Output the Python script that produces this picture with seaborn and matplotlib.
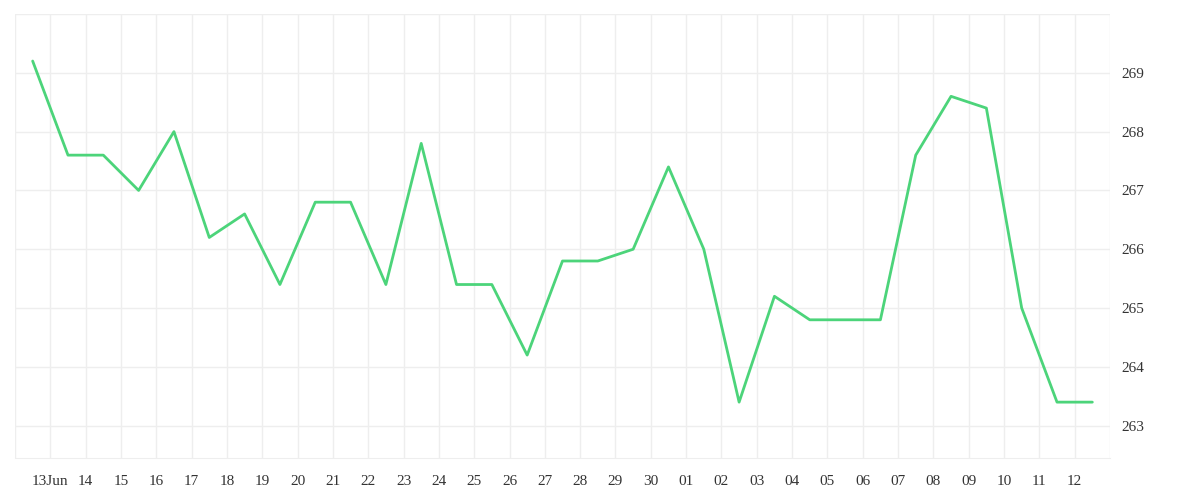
import pandas as pd
import seaborn as sns
import matplotlib.pyplot as plt
import matplotlib.dates as mdates

# data (daily, plotted at midday)
start = "2023-06-12 12:00"
values = [269.2, 267.6, 267.6, 267.0, 268.0, 266.2, 266.6, 265.4, 266.8, 266.8,
          265.4, 267.8, 265.4, 265.4, 264.2, 265.8, 265.8, 266.0, 267.4, 266.0,
          263.4, 265.2, 264.8, 264.8, 264.8, 267.6, 268.6, 268.4, 265.0, 263.4,
          263.4]
y_ticks = [263, 264, 265, 266, 267, 268, 269]

df = pd.DataFrame({"date": pd.date_range(start, periods=len(values), freq="D"),
                   "value": values})

sns.set_style("white")
plt.rcParams["font.family"] = ["Liberation Serif", "DejaVu Serif"]

fig, ax = plt.subplots(figsize=(12, 5), dpi=100)
fig.subplots_adjust(left=0.0125, right=0.925, top=0.972, bottom=0.084)

sns.lineplot(data=df, x="date", y="value", ax=ax, color="#4cd47a", linewidth=2)

ax.set_xlim(pd.Timestamp("2023-06-12"), pd.Timestamp("2023-07-13"))
ax.set_ylim(262.45, 270.0)
ax.set_yticks(y_ticks + [270])
ax.set_yticklabels([str(t) for t in y_ticks] + [""])
ax.yaxis.tick_right()
ax.xaxis.set_major_locator(mdates.DayLocator())


def fmt_day(x, _pos):
    d = mdates.num2date(x)
    if d.day == 13 and d.month == 6:
        return "13Jun"
    if d.day == 12 and d.month == 6 or d.day == 13 and d.month == 7:
        return ""
    return d.strftime("%d")


ax.xaxis.set_major_formatter(plt.FuncFormatter(fmt_day))
ax.grid(True, color="#eeeeee", linewidth=1)
ax.tick_params(axis="both", length=0, labelsize=11, colors="#333333", pad=8)
ax.tick_params(axis="x", length=10, color="#eeeeee", pad=2)
for s in ["top", "left", "right"]:
    ax.spines[s].set_visible(False)
ax.spines["bottom"].set_color("#eeeeee")
ax.set_xlabel("")
ax.set_ylabel("")

plt.savefig("out.png", dpi=100)
